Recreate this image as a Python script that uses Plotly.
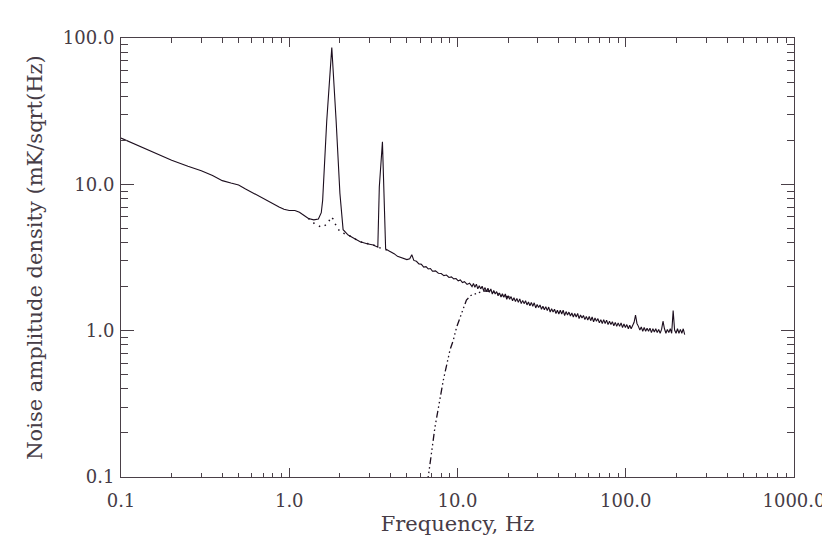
import plotly.graph_objects as go

# Spectre principal (trait plein) : basses fréquences + deux raies
FREQ_LOW = [0.10, 0.12, 0.15, 0.20, 0.25, 0.30, 0.35, 0.40, 0.45, 0.50, 0.55, 0.61,
            0.70, 0.80, 0.87, 0.93, 1.00, 1.08, 1.15, 1.22, 1.30, 1.40, 1.49, 1.55,
            1.58, 1.67, 1.79, 1.90, 2.00, 2.09, 2.24, 2.45, 2.64, 2.90, 3.16, 3.36,
            3.43, 3.58, 3.66, 3.74, 3.90, 4.05]
AMP_LOW = [20.7, 18.9, 16.9, 14.6, 13.3, 12.4, 11.5, 10.6, 10.2, 9.9, 9.3, 8.7,
           8.0, 7.4, 7.0, 6.75, 6.62, 6.62, 6.45, 6.15, 5.85, 5.72, 5.80, 6.4,
           7.8, 27.0, 86.0, 27.0, 8.7, 4.9, 4.5, 4.25, 4.05, 3.93, 3.85, 3.72,
           9.6, 19.5, 9.0, 3.62, 3.52, 3.45]

# 4 - 12 Hz : trait fin un peu bruité
FREQ_MID = [4.2, 4.4, 4.6, 4.8, 5.0, 5.2, 5.35, 5.5, 5.7, 5.9, 6.1, 6.3, 6.5, 6.7,
            6.9, 7.1, 7.4, 7.7, 8.0, 8.3, 8.6, 8.9, 9.2, 9.5, 9.8, 10.1, 10.4, 10.7,
            11.0, 11.4, 11.8]
AMP_MID = [3.36, 3.22, 3.16, 3.10, 3.06, 3.10, 3.30, 3.02, 2.98, 2.86, 2.84, 2.72,
           2.74, 2.64, 2.66, 2.55, 2.56, 2.47, 2.46, 2.38, 2.40, 2.31, 2.33, 2.26,
           2.27, 2.19, 2.22, 2.13, 2.16, 2.07, 2.11]

# 12 - 225 Hz : bande de bruit épaisse
FREQ_HIGH = [12.2, 12.44, 12.69, 12.95, 13.2, 13.47, 13.74, 14.01, 14.29, 14.58,
             14.87, 15.17, 15.47, 15.78, 16.1, 16.42, 16.75, 17.08, 17.42, 17.77,
             18.13, 18.49, 18.86, 19.24, 19.62, 20.01, 20.41, 20.82, 21.24, 21.66,
             22.1, 22.54, 22.99, 23.45, 23.92, 24.4, 24.88, 25.38, 25.89, 26.41,
             26.94, 27.47, 28.02, 28.58, 29.16, 29.74, 30.33, 30.94, 31.56, 32.19,
             32.83, 33.49, 34.16, 34.84, 35.54, 36.25, 36.98, 37.72, 38.47, 39.24,
             40.02, 40.82, 41.64, 42.47, 43.32, 44.19, 45.07, 45.97, 46.89, 47.83,
             48.79, 49.77, 50.76, 51.78, 52.81, 53.87, 54.95, 56.05, 57.17, 58.31,
             59.48, 60.67, 61.88, 63.12, 64.38, 65.67, 66.98, 68.32, 69.69, 71.08,
             72.5, 73.95, 75.43, 76.94, 78.48, 80.05, 81.65, 83.28, 84.95, 86.65,
             88.38, 90.15, 91.95, 93.79, 95.67, 97.58, 99.53, 101.5, 103.6, 105.6,
             107.7, 109.9, 112.1, 114.3, 116.6, 118.9, 121.3, 123.7, 126.2, 128.7,
             131.3, 133.9, 136.6, 139.3, 142.1, 145.0, 147.9, 150.8, 153.8, 156.9,
             160.1, 163.3, 166.5, 169.9, 173.3, 176.7, 180.3, 183.9, 187.5, 191.3,
             195.1, 199.0, 203.0, 207.1, 211.2, 215.4, 219.7, 224.1]
AMP_HIGH = [2.00, 2.10, 1.98, 2.08, 1.93, 2.03, 1.93, 2.01, 1.88, 1.97,
            1.85, 1.95, 1.83, 1.93, 1.78, 1.88, 1.78, 1.85, 1.73, 1.81,
            1.70, 1.79, 1.69, 1.78, 1.64, 1.73, 1.64, 1.71, 1.60, 1.68,
            1.58, 1.66, 1.56, 1.65, 1.53, 1.61, 1.53, 1.60, 1.50, 1.57,
            1.48, 1.56, 1.47, 1.55, 1.43, 1.51, 1.44, 1.50, 1.40, 1.47,
            1.39, 1.46, 1.37, 1.45, 1.34, 1.41, 1.34, 1.40, 1.31, 1.38,
            1.30, 1.38, 1.30, 1.38, 1.27, 1.35, 1.28, 1.34, 1.26, 1.32,
            1.24, 1.31, 1.24, 1.31, 1.21, 1.28, 1.22, 1.27, 1.19, 1.25,
            1.18, 1.25, 1.17, 1.24, 1.15, 1.22, 1.16, 1.21, 1.13, 1.19,
            1.12, 1.19, 1.12, 1.18, 1.10, 1.16, 1.10, 1.15, 1.08, 1.14,
            1.07, 1.13, 1.07, 1.13, 1.05, 1.11, 1.05, 1.10, 1.03, 1.09,
            1.03, 1.09, 1.14, 1.28, 1.12, 1.07, 1.01, 1.06, 0.99, 1.05,
            0.99, 1.04, 0.99, 1.04, 0.97, 1.03, 0.98, 1.03, 0.97, 1.02,
            0.96, 1.02, 1.16, 1.03, 0.96, 1.02, 0.97, 1.03, 0.96, 1.37,
            1.01, 0.96, 1.03, 0.96, 1.02, 0.96, 1.03, 0.94]

# Spectre sans les raies (pointillé)
FREQ_DOT = [1.30, 1.42, 1.56, 1.66, 1.71, 1.77, 1.82, 1.87, 2.00, 2.12, 2.24, 2.64,
            3.16, 3.36, 3.58, 3.74, 3.90]
AMP_DOT = [5.85, 5.36, 5.08, 5.30, 5.50, 6.00, 5.80, 5.40, 4.74, 4.60, 4.50, 4.05,
           3.85, 3.72, 3.65, 3.60, 3.52]

# Spectre filtré passe-haut (tiret-points)
FREQ_HP = [6.5, 6.7, 7.35, 8.24, 9.03, 9.44, 9.89, 10.6, 11.3, 12.0, 13.0, 14.3,
           15.5, 17.0, 18.6, 20.4]
AMP_HP = [0.085, 0.10, 0.22, 0.46, 0.74, 0.86, 1.06, 1.31, 1.62, 1.74, 1.80, 1.87,
          1.86, 1.82, 1.72, 1.70]

assert len(FREQ_LOW) == len(AMP_LOW)
assert len(FREQ_MID) == len(AMP_MID)
assert len(FREQ_HIGH) == len(AMP_HIGH)

LINE_COLOR = "#1c0e1e"
AXIS_COLOR = "#4a4048"
TEXT_COLOR = "#463c46"
FONT = "DejaVu Serif"

fig = go.Figure()

fig.add_trace(go.Scatter(
    x=FREQ_LOW + FREQ_MID + FREQ_HIGH, y=AMP_LOW + AMP_MID + AMP_HIGH, mode="lines",
    line=dict(color=LINE_COLOR, width=1.1), showlegend=False,
))
fig.add_trace(go.Scatter(
    x=FREQ_DOT, y=AMP_DOT, mode="lines",
    line=dict(color=LINE_COLOR, width=1.5, dash="1.5px,5px"), showlegend=False,
))
fig.add_trace(go.Scatter(
    x=FREQ_HP, y=AMP_HP, mode="lines",
    line=dict(color=LINE_COLOR, width=1.3, dash="7px,3px,1.5px,3px,1.5px,3px,1.5px,3px"),
    showlegend=False,
))

axis_common = dict(
    type="log", showgrid=False, zeroline=False,
    showline=True, linecolor=AXIS_COLOR, linewidth=1, mirror="allticks",
    ticks="inside", tickcolor=AXIS_COLOR, tickwidth=1,
    tickmode="linear", tick0=0, dtick=1, tickformat=".1f",
    tickfont=dict(family=FONT, size=18, color=TEXT_COLOR),
)

fig.update_xaxes(
    **axis_common, range=[-1, 3], ticklen=9, ticklabelstandoff=7,
    minor=dict(ticks="inside", ticklen=4.5, tickcolor=AXIS_COLOR, dtick="D1"),
    title=dict(text="Frequency, Hz", font=dict(family=FONT, size=21, color=TEXT_COLOR), standoff=6),
)
fig.update_yaxes(
    **axis_common, range=[-1, 2], ticklen=13, ticklabelstandoff=2,
    minor=dict(ticks="inside", ticklen=7, tickcolor=AXIS_COLOR, dtick="D1"),
    title=dict(text="Noise amplitude density (mK/sqrt(Hz)",
               font=dict(family=FONT, size=21, color=TEXT_COLOR), standoff=14),
)

# La page ajoute une marge de 8 px autour de la figure
fig.update_layout(
    width=822, height=546,
    margin=dict(l=113, r=36, t=30, b=77, autoexpand=False),
    paper_bgcolor="white", plot_bgcolor="white",
)

fig.write_html("out.html")
